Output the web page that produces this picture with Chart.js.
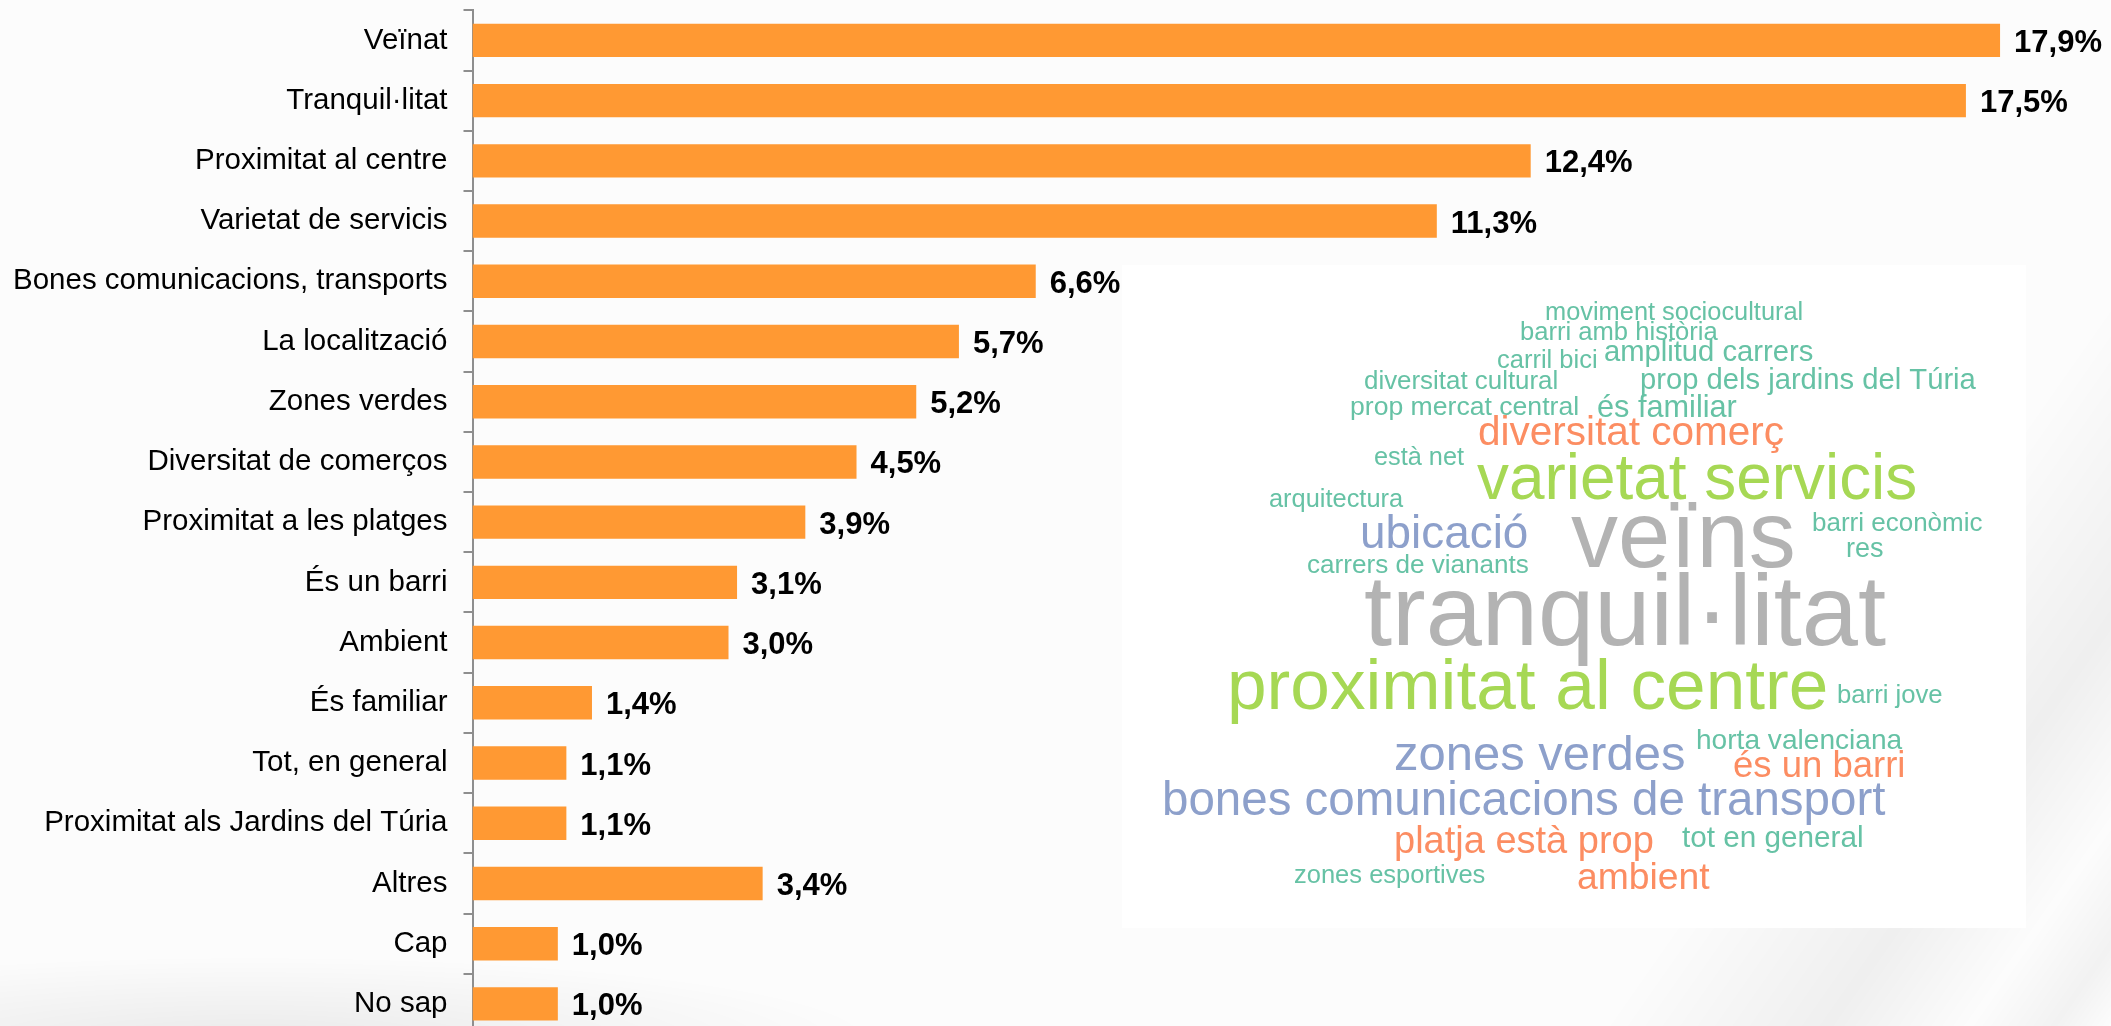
<!DOCTYPE html>
<html>
<head>
<meta charset="utf-8">
<script src="https://cdn.jsdelivr.net/npm/chart.js@4.4.0/dist/chart.umd.min.js"></script>
<style>
  html, body { margin: 0; padding: 0; overflow: hidden; width: 2111px; height: 1026px; }
  body {
    background:
      radial-gradient(ellipse 900px 120px at 250px 1040px, rgba(0,0,0,0.07), rgba(0,0,0,0) 70%),
      linear-gradient(125deg, rgba(0,0,0,0) 82%, rgba(0,0,0,0.05) 90%, rgba(0,0,0,0) 95%, rgba(0,0,0,0.04) 98%, rgba(0,0,0,0)),
      #fcfcfc;
  }
  #wrap { position: absolute; left: 0; top: 0; width: 2111px; height: 1034px; }
</style>
</head>
<body>
<div id="wrap"><canvas id="c"></canvas></div>
<script>
// ---- Data ----
const categories = [
  'Veïnat', 'Tranquil·litat', 'Proximitat al centre', 'Varietat de servicis',
  'Bones comunicacions, transports', 'La localització', 'Zones verdes',
  'Diversitat de comerços', 'Proximitat a les platges', 'És un barri', 'Ambient',
  'És familiar', 'Tot, en general', 'Proximitat als Jardins del Túria',
  'Altres', 'Cap', 'No sap'
];
const values = [17.9, 17.5, 12.4, 11.3, 6.6, 5.7, 5.2, 4.5, 3.9, 3.1, 3.0, 1.4, 1.1, 1.1, 3.4, 1.0, 1.0];
const valueLabels = values.map(v => v.toFixed(1).replace('.', ',') + '%');

// Word cloud words (text only)
const cloudWords = [
  'moviment sociocultural', 'barri amb història', 'carril bici', 'amplitud carrers',
  'diversitat cultural', 'prop dels jardins del Túria', 'prop mercat central', 'és familiar',
  'diversitat comerç', 'està net', 'varietat servicis', 'arquitectura', 'ubicació',
  'veïns', 'carrers de vianants', 'barri econòmic', 'res', 'tranquil·litat',
  'proximitat al centre', 'barri jove', 'zones verdes', 'horta valenciana',
  'és un barri', 'bones comunicacions de transport', 'platja està prop',
  'tot en general', 'zones esportives', 'ambient'
];
// Word cloud layout: [left x, baseline y, font size, colour key]
const cloudLayout = [
  [1545, 320, 25.4, 't'], [1520, 340, 25.6, 't'], [1497, 368, 25.5, 't'], [1604, 361, 29.2, 't'],
  [1364, 389, 25.9, 't'], [1640, 389, 29.2, 't'], [1350, 415, 26.6, 't'], [1597, 417, 30.7, 't'],
  [1478, 445, 40.5, 'o'], [1374, 465, 25.3, 't'], [1477, 499, 63.9, 'l'], [1269, 507, 25.4, 't'],
  [1360, 548, 45.9, 'b'], [1571, 567, 94, 'g'], [1307, 573, 26.1, 't'], [1812, 531, 26.0, 't'],
  [1846, 557, 27, 't'], [1364, 645, 101, 'g'], [1227, 709, 71.2, 'l'], [1837, 703, 25.7, 't'],
  [1394, 770, 49, 'b'], [1696, 749, 28.1, 't'], [1733, 777, 36.5, 'o'], [1162, 815, 47.5, 'b'],
  [1394, 853, 38, 'o'], [1682, 847, 29.7, 't'], [1294, 883, 25.5, 't'], [1577, 889, 37.3, 'o']
];
const cloudPalette = { t: '#66C2A5', o: '#FC8D62', b: '#8DA0CB', l: '#A6D854', g: '#B3B3B3' };
const cloudPanel = { x: 1122, y: 265, w: 904, h: 663 };

const FONT = '"Liberation Sans", Arial, Helvetica, sans-serif';

const valueLabelPlugin = {
  id: 'valueLabels',
  afterDatasetsDraw(chart) {
    const ctx = chart.ctx;
    const meta = chart.getDatasetMeta(0);
    ctx.save();
    ctx.font = 'bold 31px ' + FONT;
    ctx.fillStyle = '#000';
    ctx.textAlign = 'left';
    ctx.textBaseline = 'alphabetic';
    meta.data.forEach((el, i) => {
      ctx.fillText(valueLabels[i], el.x + 14, el.y + 11.5);
    });
    ctx.restore();
  }
};

const cloudPlugin = {
  id: 'wordCloud',
  afterDraw(chart) {
    const ctx = chart.ctx;
    ctx.save();
    ctx.fillStyle = '#ffffff';
    ctx.fillRect(cloudPanel.x, cloudPanel.y, cloudPanel.w, cloudPanel.h);
    ctx.textAlign = 'left';
    ctx.textBaseline = 'alphabetic';
    cloudWords.forEach((w, i) => {
      const [x, y, size, col] = cloudLayout[i];
      ctx.font = size + 'px ' + FONT;
      ctx.fillStyle = cloudPalette[col];
      ctx.fillText(w, x, y);
    });
    ctx.restore();
  }
};

new Chart(document.getElementById('c'), {
  type: 'bar',
  data: {
    labels: categories,
    datasets: [{
      data: values,
      backgroundColor: '#FF9933',
      borderWidth: 0,
      barPercentage: 0.555,
      categoryPercentage: 1
    }]
  },
  options: {
    indexAxis: 'y',
    responsive: true,
    maintainAspectRatio: false,
    animation: false,
    layout: { padding: { left: 0, right: 0, top: 10.3, bottom: 0 } },
    plugins: { legend: { display: false }, tooltip: { enabled: false } },
    scales: {
      x: { display: false, min: 0, max: 19.2 },
      y: {
        position: 'left',
        grid: { display: true, drawOnChartArea: false, drawTicks: true, tickLength: 9, color: '#8e8e8e', lineWidth: 2, offset: true },
        border: { display: true, color: '#8e8e8e', width: 2 },
        ticks: { color: '#000', font: { family: FONT, size: 29.5 }, padding: 16, autoSkip: false },
        afterFit(s) { s.width = 472.5; s.paddingTop = 0; s.paddingBottom = 0; }
      }
    }
  },
  plugins: [valueLabelPlugin, cloudPlugin]
});
</script>
</body>
</html>
